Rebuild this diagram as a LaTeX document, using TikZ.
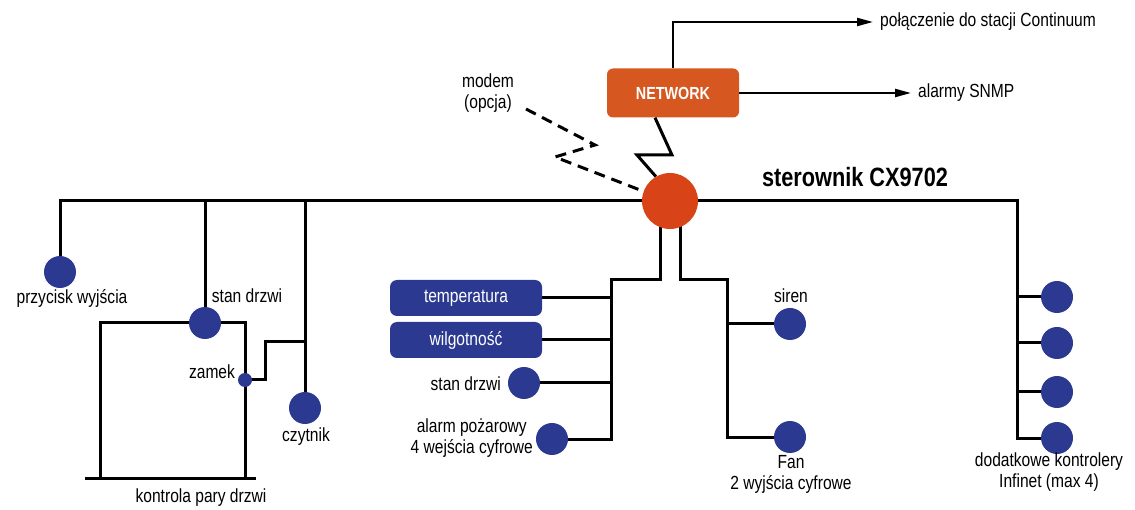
\documentclass[tikz,border=0pt]{standalone}
\usepackage{fontspec}
\setmainfont{Liberation Sans}[FakeStretch=0.82]
\usetikzlibrary{arrows.meta,backgrounds}

\definecolor{devblue}{RGB}{43,57,144}
\definecolor{netorange}{RGB}{214,88,32}
\definecolor{ctrlred}{RGB}{216,68,24}

\tikzset{
  wire/.style={line width=3pt, black, line join=miter},
  feed/.style={line width=2.2pt, black, -{Triangle[length=16pt,width=8pt]}, shorten >=7pt},
  dot/.style={circle, fill=devblue, minimum size=32pt, inner sep=0pt},
  smalldot/.style={circle, fill=devblue, minimum size=14pt, inner sep=0pt},
  sensor/.style={rounded corners=7pt, fill=devblue, text=white, minimum width=152pt,
    minimum height=36pt, inner sep=0pt, font=\fontsize{19}{21}\selectfont},
  lbl/.style={font=\fontsize{19}{21}\selectfont, inner sep=0pt, align=center},
}

\begin{document}
\begin{tikzpicture}[x=1pt, y=-1pt]
\path[use as bounding box] (0,0) rectangle (1135,510);

% controller and network module
\node[circle, fill=ctrlred, minimum size=56pt, inner sep=0pt] (cx) at (670,201) {};
\node[rounded corners=6pt, fill=netorange, text=white, minimum width=132pt, minimum height=49pt,
      inner sep=0pt, font=\fontsize{17.5}{19}\selectfont\bfseries] (net) at (673,93) {NETWORK};
\node[lbl, font=\fontsize{26.5}{30}\selectfont\bfseries] (title) at (855,177) {sterownik CX9702};
\node[lbl, anchor=west] (cont) at (880,22) {połączenie do stacji Continuum};
\node[lbl, anchor=west] (snmp) at (918,93) {alarmy SNMP};
\node[lbl] (modem) at (488,93) {modem\\(opcja)};

% left side: door devices
\node[dot] (przy) at (60,272) {};
\node[lbl] (przyL) at (72,298) {przycisk wyjścia};
\node[dot] (sdL) at (205,323) {};
\node[lbl] (sdLL) at (247,296) {stan drzwi};
\node[smalldot] (zam) at (245,380) {};
\node[lbl] (zamL) at (212,372) {zamek};
\node[dot] (czyt) at (305,408) {};
\node[lbl] (czytL) at (306,437) {czytnik};
\node[lbl] (kontr) at (201,498) {kontrola pary drzwi};

% lower middle: inputs
\node[sensor] (temp) at (466,298) {temperatura};
\node[sensor] (wilg) at (466,340) {wilgotność};
\node[dot] (sdM) at (524,383) {};
\node[lbl, anchor=east] (sdML) at (501,384) {stan drzwi};
\node[dot] (alarm) at (552,439) {};
\node[lbl, anchor=east] (alarmL) at (533,438) {alarm pożarowy\\4 wejścia cyfrowe};

% lower middle: outputs
\node[dot] (siren) at (790,324) {};
\node[lbl] (sirenL) at (791,296) {siren};
\node[dot] (fan) at (790,437) {};
\node[lbl] (fanL) at (791,474) {Fan\\2 wyjścia cyfrowe};

% right: extra controllers
\node[dot] (k1) at (1057,297) {};
\node[dot] (k2) at (1057,343) {};
\node[dot] (k3) at (1057,392) {};
\node[dot] (k4) at (1057,438) {};
\node[lbl] (kL) at (1049,472) {dodatkowe kontrolery\\Infinet (max 4)};

% junction points
\coordinate (busL) at (60,201);
\coordinate (busR) at (1017,201);
\coordinate (doorL) at (100,478);
\coordinate (doorA) at (85,478);
\coordinate (doorB) at (256,478);
\coordinate (zk) at (265,342);
\coordinate (trL) at (611,280);
\coordinate (trR) at (727,280);
\coordinate (zzA) at (672,155);
\coordinate (zzB) at (637,155);
\coordinate (mdS) at (526,109);
\coordinate (mdA) at (595,145);
\coordinate (mdB) at (555,157);

\begin{scope}[on background layer]
  % main bus
  \draw[wire] (cx.center) -- (busL) -- (przy.center);
  \draw[wire] (sdL.center) -- (sdL |- busL);
  \draw[wire] (czyt.center) -- (czyt |- busL);
  \draw[wire] (cx.center) -- (busR) -- (busR |- k4) -- (k4.center);
  \foreach \k in {k1,k2,k3} \draw[wire] (\k.center) -- (\k -| busR);

  % door pair
  \draw[wire] (sdL.center) -| (doorL);
  \draw[wire] (sdL.center) -| (zam.center);
  \draw[wire] ([yshift=3pt]zam.south) -- (zam |- doorL);
  \draw[wire] (doorA) -- (doorB);
  \draw[wire] (zam.center) -| (zk) -- (zk -| czyt);

  % inputs trunk
  \draw[wire] ([xshift=-10pt]cx.center) |- (trL) -- (trL |- alarm) -- (alarm.center);
  \draw[wire] (temp.center) -- (temp -| trL);
  \draw[wire] (wilg.center) -- (wilg -| trL);
  \draw[wire] (sdM.center) -- (sdM -| trL);

  % outputs trunk
  \draw[wire] ([xshift=10pt]cx.center) |- (trR) -- (trR |- fan) -- (fan.center);
  \draw[wire] (siren.center) -- (siren -| trR);
\end{scope}

% network links
\draw[wire] ([xshift=-18pt]net.south) -- (zzA) -- (zzB) -- (cx.120);
\draw[feed] (net.north) |- (cont.west);
\draw[feed] (net.east) -- (snmp.west);

% optional modem link
\draw[wire, dash pattern=on 11pt off 7pt] (mdS) -- (mdA) -- (mdB) -- (cx.160);
\end{tikzpicture}
\end{document}
